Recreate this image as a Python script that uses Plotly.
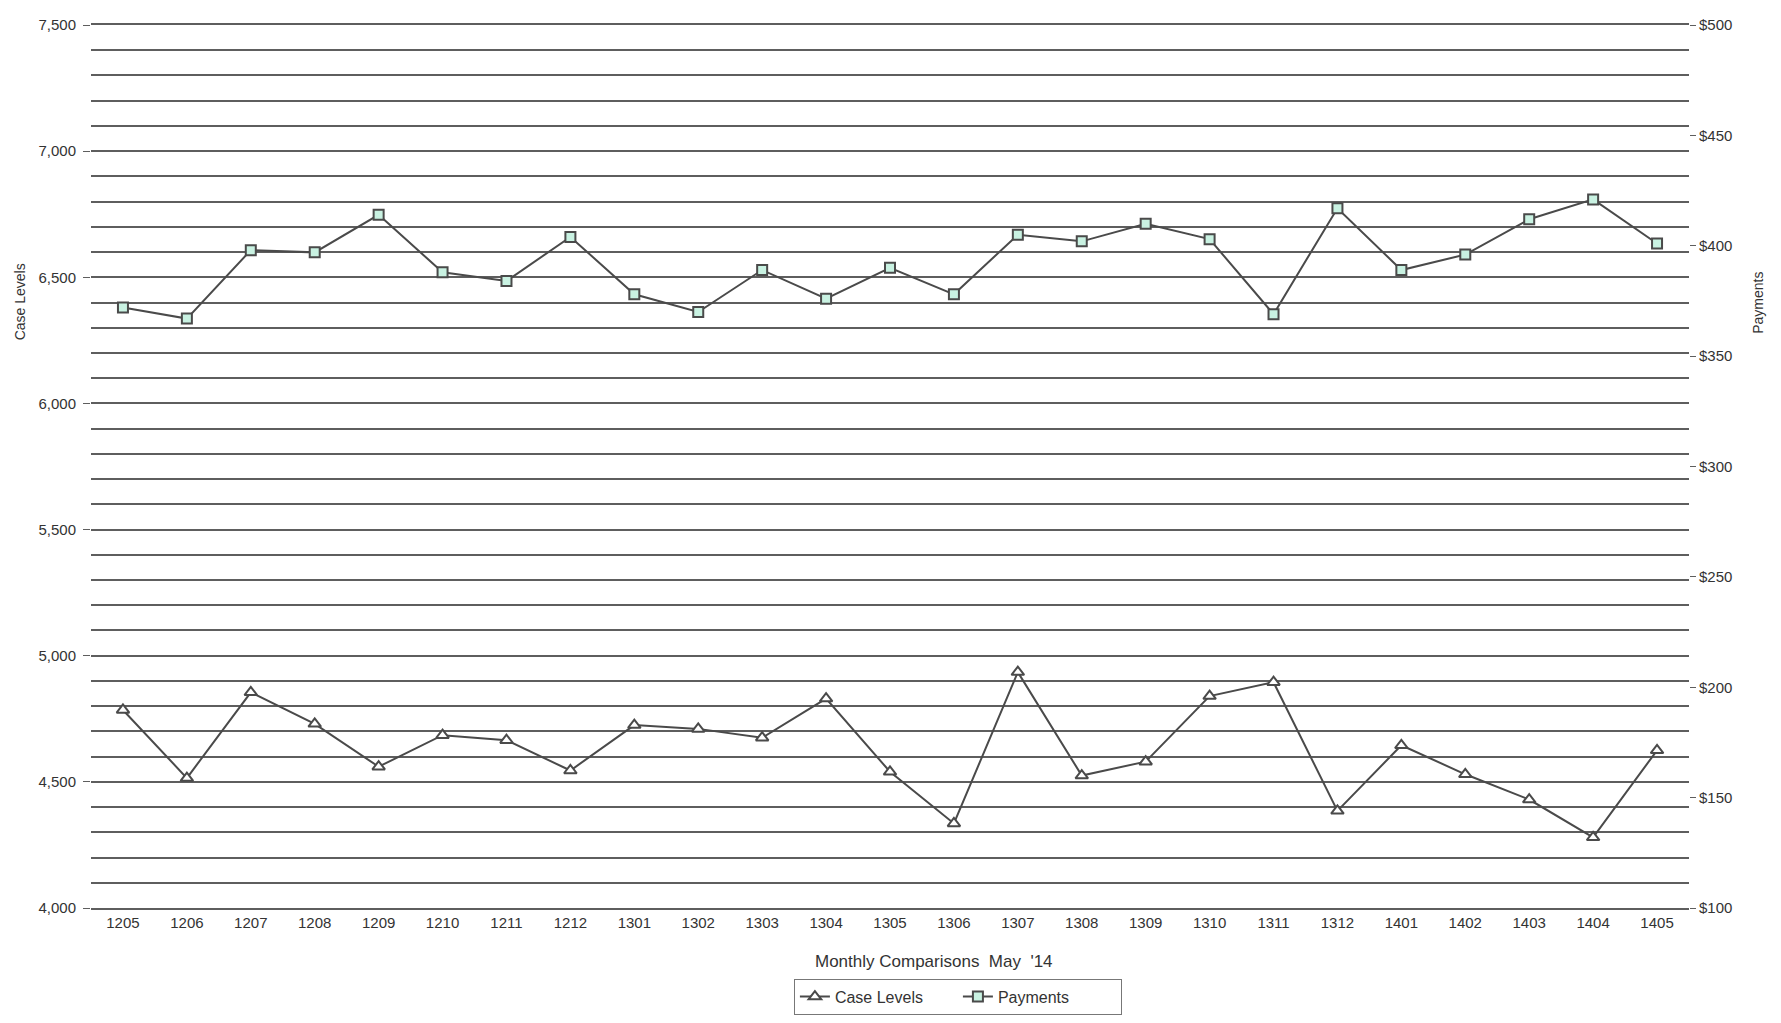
import plotly.graph_objects as go

months = ["1205", "1206", "1207", "1208", "1209", "1210", "1211", "1212",
          "1301", "1302", "1303", "1304", "1305", "1306", "1307", "1308",
          "1309", "1310", "1311", "1312", "1401", "1402", "1403", "1404", "1405"]

case_levels = [4785, 4515, 4855, 4730, 4560, 4685, 4665, 4545,
               4725, 4710, 4675, 4830, 4540, 4335, 4935, 4525,
               4580, 4840, 4895, 4385, 4645, 4530, 4430, 4280, 4625]

payments = [372, 367, 398, 397, 414, 388, 384, 404,
            378, 370, 389, 376, 390, 378, 405, 402,
            410, 403, 369, 417, 389, 396, 412, 421, 401]

FONT = "Liberation Sans, Arial, sans-serif"
LINE = "#4a4a4a"
GRID = "#5e5e5e"

fig = go.Figure()
fig.add_trace(go.Scatter(
    x=months, y=case_levels, name="Case Levels", mode="lines+markers",
    line=dict(color=LINE, width=2),
    marker=dict(symbol="triangle-up", size=11, color="white",
                line=dict(color=LINE, width=2)),
    yaxis="y"))
fig.add_trace(go.Scatter(
    x=months, y=payments, name="Payments", mode="lines+markers",
    line=dict(color=LINE, width=2),
    marker=dict(symbol="square", size=10, color="#c9f2e2",
                line=dict(color=LINE, width=2)),
    yaxis="y2"))

fig.update_layout(
    width=1765, height=1007,
    margin=dict(l=83, r=84, t=17, b=107, autoexpand=False),
    paper_bgcolor="white", plot_bgcolor="white",
    font=dict(family=FONT, size=15, color="#333"),
    showlegend=True,
    legend=dict(orientation="h", x=0.5425, xanchor="center", y=-0.080, yanchor="top",
                bordercolor="#777", borderwidth=1, font=dict(size=16, color="#333"),
                entrywidth=118, entrywidthmode="pixels"),
    xaxis=dict(type="category", range=[-0.5, 24.5], showgrid=False,
               showline=True, linecolor=GRID, linewidth=1.5, mirror=True,
               ticks="", tickfont=dict(size=15, color="#333"),
               zeroline=False),
    yaxis=dict(range=[4000, 7500], dtick=500, tickformat=",",
               showgrid=True, gridcolor=GRID, gridwidth=1.5,
               minor=dict(dtick=100, showgrid=True, gridcolor=GRID, gridwidth=1.5),
               ticks="outside", ticklen=7, tickcolor=GRID,
               ticklabelstandoff=4,
               showline=False, zeroline=False,
               tickfont=dict(size=15, color="#333")),
    yaxis2=dict(range=[100, 500], dtick=50, tickprefix="$", overlaying="y",
                side="right", showgrid=False, zeroline=False, showline=False,
                ticks="outside", ticklen=6, tickcolor=GRID,
                tickfont=dict(size=15, color="#333")),
)

fig.add_annotation(text="Case Levels", x=-0.0444, y=0.686, xref="paper", yref="paper",
                   xanchor="center", yanchor="middle",
                   textangle=-90, showarrow=False, font=dict(size=14, color="#333"))
fig.add_annotation(text="Payments", x=1.043, y=0.685, xref="paper", yref="paper",
                   xanchor="center", yanchor="middle",
                   textangle=-90, showarrow=False, font=dict(size=14, color="#333"))
fig.add_annotation(text="Monthly Comparisons  May  '14", x=0.5275, y=-0.061,
                   xref="paper", yref="paper", xanchor="center", yanchor="middle",
                   showarrow=False, font=dict(size=17, color="#333"))

fig.write_html("out.html")
